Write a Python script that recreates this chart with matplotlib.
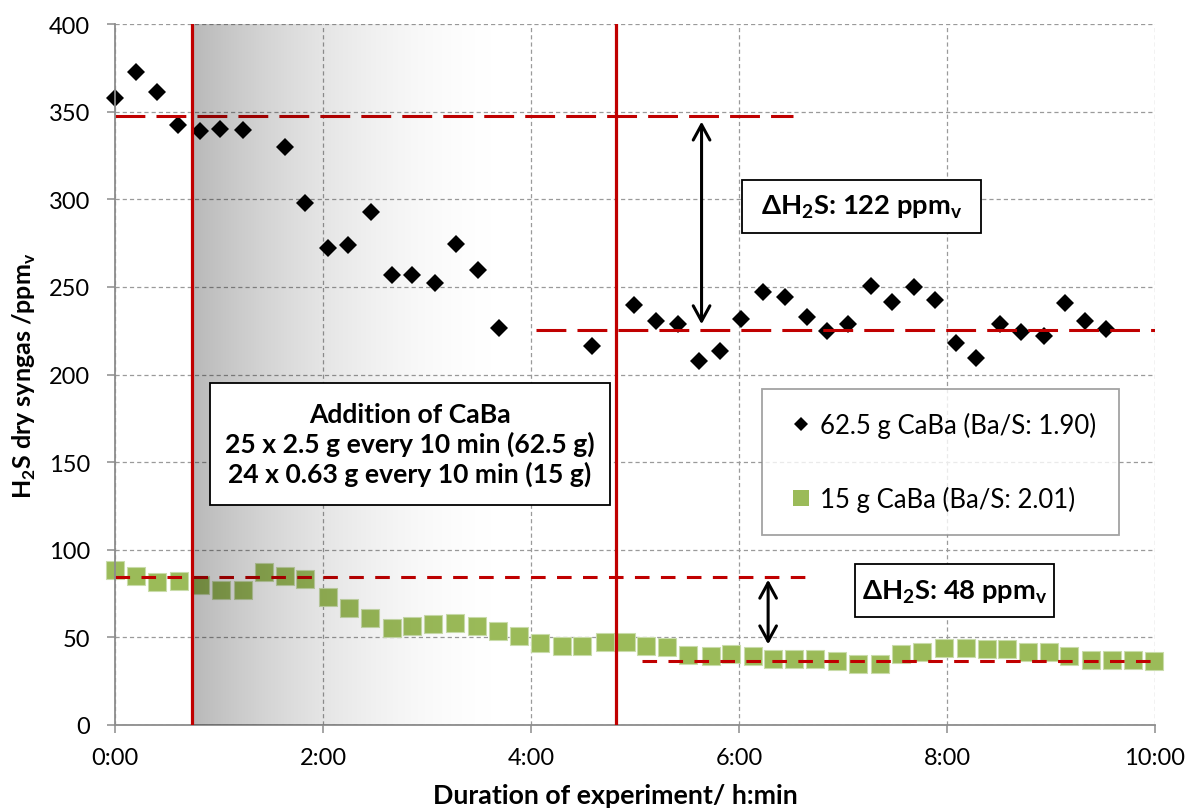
import numpy as np
import matplotlib
matplotlib.use("Agg")
import matplotlib.pyplot as plt
from matplotlib.lines import Line2D
from matplotlib.patches import Rectangle

plt.rcParams['font.family'] = ['Lato', 'DejaVu Sans']
plt.rcParams['mathtext.fontset'] = 'custom'
plt.rcParams['mathtext.rm'] = 'Lato'
plt.rcParams['mathtext.bf'] = 'Lato:bold'
plt.rcParams['lines.scale_dashes'] = False

# ---- data -----------------------------------------------------------------
# 62.5 g CaBa run: time (h) and H2S in dry syngas (ppmv)
t_caba62 = [0.00, 0.20, 0.40, 0.61, 0.82, 1.01, 1.23, 1.63, 1.83, 2.05, 2.24,
            2.46, 2.66, 2.86, 3.08, 3.28, 3.49, 3.69, 4.59, 4.99, 5.20, 5.41,
            5.62, 5.82, 6.02, 6.23, 6.44, 6.65, 6.85, 7.05, 7.27, 7.47, 7.68,
            7.88, 8.09, 8.28, 8.51, 8.71, 8.93, 9.13, 9.33, 9.53]
h2s_caba62 = [357.6, 372.7, 361.1, 342.6, 338.7, 339.9, 339.5, 329.8, 297.7,
              272.3, 273.7, 292.7, 256.9, 256.9, 252.1, 274.6, 259.7, 226.5,
              216.2, 239.6, 230.8, 229.1, 207.7, 213.4, 231.8, 247.0, 244.1,
              232.7, 224.8, 229.1, 250.4, 241.5, 249.8, 242.4, 218.1, 209.6,
              229.1, 224.2, 221.9, 240.9, 230.8, 226.1]

# 15 g CaBa run
t_caba15 = [0.00, 0.20, 0.40, 0.62, 0.82, 1.02, 1.23, 1.43, 1.63, 1.83, 2.05,
            2.25, 2.45, 2.66, 2.86, 3.06, 3.27, 3.48, 3.68, 3.88, 4.09, 4.30,
            4.49, 4.71, 4.91, 5.11, 5.31, 5.51, 5.73, 5.92, 6.13, 6.33, 6.53,
            6.73, 6.94, 7.14, 7.36, 7.56, 7.76, 7.97, 8.18, 8.38, 8.58, 8.78,
            8.98, 9.17, 9.38, 9.59, 9.79, 9.99]
h2s_caba15 = [88.2, 85.2, 81.6, 82.3, 80.0, 77.0, 77.0, 87.1, 84.8, 83.1, 73.0,
              66.7, 60.8, 55.5, 56.5, 57.4, 58.4, 56.7, 53.8, 51.0, 47.0, 45.2,
              45.2, 47.3, 47.1, 45.2, 44.3, 40.1, 39.5, 40.5, 39.1, 37.8, 37.8,
              37.8, 36.3, 34.9, 34.9, 40.5, 41.8, 43.7, 43.9, 43.3, 43.3, 41.4,
              41.4, 39.1, 37.2, 37.2, 37.2, 36.8]

series_labels = ["62.5 g CaBa (Ba/S: 1.90)", "15 g CaBa (Ba/S: 2.01)"]

# CaBa dosing period (h)
dosing_start = 0.74
dosing_end = 4.82

# mean H2S levels before / after dosing and their difference (ppmv)
level62_before = 347.5
delta62 = 122
level62_after = level62_before - delta62
level15_before = 84.5
delta15 = 48
level15_after = level15_before - delta15

# time spans (h) of the level lines
span62_before = (0.0, 6.52)
span62_after = (4.05, 10.0)
span15_before = (0.0, 6.68)
span15_after = (5.07, 10.0)

x_ticks = [0, 2, 4, 6, 8, 10]
x_tick_labels = ["0:00", "2:00", "4:00", "6:00", "8:00", "10:00"]
y_ticks = [0, 50, 100, 150, 200, 250, 300, 350, 400]

dosing_text = ("Addition of CaBa\n25 x 2.5 g every 10 min (62.5 g)\n"
               "24 x 0.63 g every 10 min (15 g)")

# ---- figure -----------------------------------------------------------------
RED = "#c00000"
GREEN = "#9bbb59"
GRID = "#9a9a9a"
AXIS = "#8c8c8c"

fig = plt.figure(figsize=(11.92, 8.12), dpi=100)
ax = fig.add_axes([115 / 1192, 1 - 726 / 812, 1040 / 1192, 701 / 812])

ax.set_xlim(0, 10)
ax.set_ylim(0, 400)

# grid and axes
ax.set_axisbelow(True)
ax.grid(True, color=GRID, linestyle=(0, (3, 2.2)), linewidth=0.9)
for side in ("top", "right"):
    ax.spines[side].set_visible(False)
for side in ("left", "bottom"):
    ax.spines[side].set_color(AXIS)
    ax.spines[side].set_linewidth(1.3)
ax.set_xticks(x_ticks)
ax.set_xticklabels(x_tick_labels)
ax.set_yticks(y_ticks)
ax.tick_params(axis="both", colors=AXIS, length=6, width=1.1, labelsize=17,
               labelcolor="black")
ax.tick_params(axis="y", pad=12)
ax.tick_params(axis="x", pad=10)

ax.set_xlabel("Duration of experiment/ h:min", fontsize=19.3,
              fontweight="bold")
ax.set_ylabel(r"H$_\mathregular{2}$S dry syngas /ppm$_\mathregular{v}$",
              fontsize=18, fontweight="bold")
ax.xaxis.set_label_coords(0.481, -0.083)
ax.yaxis.set_label_coords(-0.074, 0.5)

# measurements
ax.plot(t_caba62, h2s_caba62, linestyle="none", marker="D", markersize=8.9,
        color="black", markeredgewidth=0, zorder=2, clip_on=False)
ax.plot(t_caba15, h2s_caba15, linestyle="none", marker="s", markersize=12.5,
        color=GREEN, markeredgecolor="#c9dcaa", markeredgewidth=0.8, zorder=2,
        clip_on=False)

# mean levels before / after dosing
long_dash = (0, (21.5, 8.0))
short_dash = (0, (10.5, 8.2))
ax.plot(span62_before, [level62_before] * 2, color=RED, lw=2.2,
        linestyle=long_dash, zorder=2.5)
ax.plot(span62_after, [level62_after] * 2, color=RED, lw=2.2,
        linestyle=long_dash, zorder=2.5)
ax.plot(span15_before, [level15_before] * 2, color=RED, lw=2.2,
        linestyle=short_dash, zorder=2.5)
ax.plot(span15_after, [level15_after] * 2, color=RED, lw=2.2,
        linestyle=short_dash, zorder=2.5)

# shaded dosing ramp (dark at the start, fading out by 4:00)
n = 400
ramp = np.zeros((1, n, 4))
ramp[0, :, 3] = 0.28 * (1 - np.linspace(0, 1, n)) ** 2
ax.imshow(ramp, extent=(dosing_start, 4.0, 0, 400), aspect="auto",
          interpolation="bilinear", zorder=3)
ax.set_xlim(0, 10)
ax.set_ylim(0, 400)

# dosing start / end
for xv in (dosing_start, dosing_end):
    ax.axvline(xv, color=RED, lw=2.3, zorder=4)

# difference arrows
arrow_style = dict(arrowstyle="<->,head_length=0.55,head_width=0.3",
                   color="black", lw=2.2, mutation_scale=20)
ax.annotate("", xy=(5.64, level62_after), xytext=(5.64, level62_before),
            arrowprops=dict(**arrow_style, shrinkA=4, shrinkB=4), zorder=4)
ax.annotate("", xy=(6.28, level15_after), xytext=(6.28, level15_before),
            arrowprops=dict(**arrow_style, shrinkA=2, shrinkB=12), zorder=4)


def boxed_text(x0, x1, y0, y1, text, **kw):
    ax.add_patch(Rectangle((x0, y0), x1 - x0, y1 - y0, facecolor="white",
                           edgecolor="black", lw=1.3, zorder=5))
    ax.text((x0 + x1) / 2, (y0 + y1) / 2, text, ha="center", va="center",
            zorder=6, **kw)


boxed_text(0.913, 4.76, 125.8, 195.3, dosing_text, fontsize=19.1,
           fontweight="bold", linespacing=1.22)
boxed_text(6.03, 8.33, 280.8, 311.1,
           r"ΔH$_\mathregular{2}$S: %d ppm$_\mathregular{v}$" % delta62,
           fontsize=19.7, fontweight="bold")
boxed_text(7.115, 9.03, 61.5, 91.7,
           r"ΔH$_\mathregular{2}$S: %d ppm$_\mathregular{v}$" % delta15,
           fontsize=19.7, fontweight="bold")

# legend
handles = [
    Line2D([], [], linestyle="none", marker="D", markersize=7.5, color="black",
           markeredgewidth=0),
    Line2D([], [], linestyle="none", marker="s", markersize=12, color=GREEN,
           markeredgewidth=0),
]
leg = ax.legend(handles, series_labels, loc="upper left",
                bbox_to_anchor=((762 - 115) / 1040, (726 - 390) / 701),
                fontsize=18.5, frameon=True, fancybox=False, borderpad=0.9,
                labelspacing=1.86, handlelength=1.2, handletextpad=0.15,
                borderaxespad=0)
leg.get_frame().set_edgecolor(AXIS)
leg.get_frame().set_linewidth(1.3)
leg.set_zorder(6)

fig.savefig("out.png", dpi=100)
